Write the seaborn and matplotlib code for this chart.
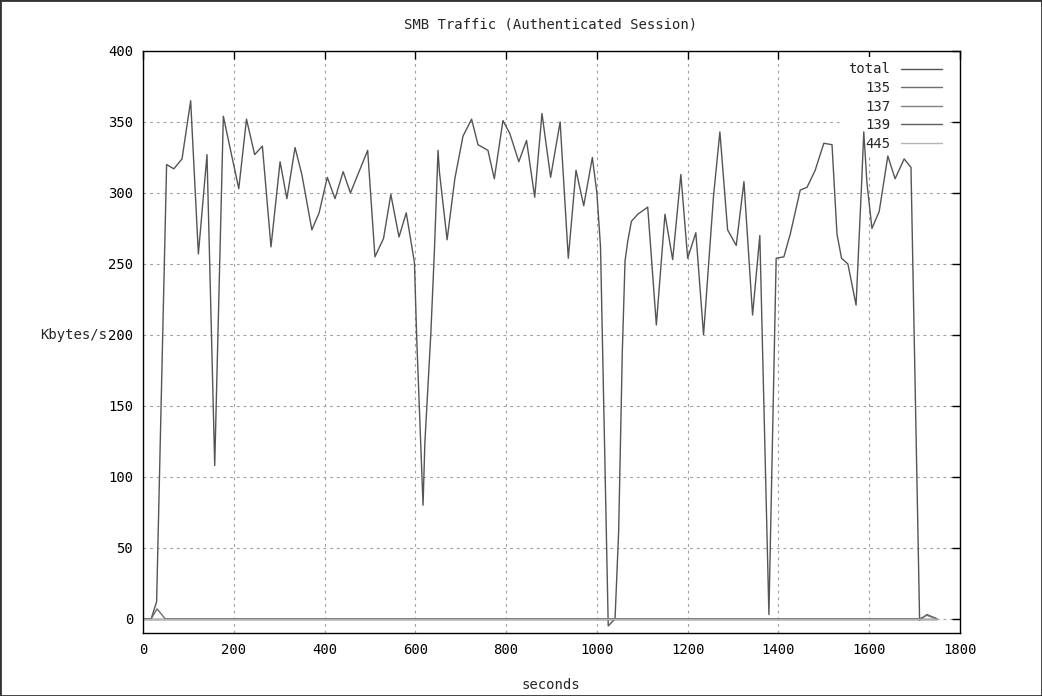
import matplotlib
matplotlib.use("Agg")
import matplotlib.pyplot as plt
from matplotlib.patches import Rectangle
import pandas as pd
import seaborn as sns

# ---------------- data ----------------
title = "SMB Traffic (Authenticated Session)"
x_label = "seconds"
y_label = "Kbytes/s"
x_ticks = [0, 200, 400, 600, 800, 1000, 1200, 1400, 1600, 1800]
y_ticks = [0, 50, 100, 150, 200, 250, 300, 350, 400]
series_names = ["total", "135", "137", "139", "445"]

total_t = [0, 18, 30, 52, 68, 86, 105, 122, 141, 158, 177, 211, 228, 246, 263,
           282, 302, 317, 335, 350, 372, 388, 406, 423, 441, 457, 495, 511, 530,
           546, 564, 580, 598, 603, 617, 621, 634, 642, 650, 653, 670, 687, 705,
           724, 738, 760, 774, 793, 808, 828, 845, 863, 879, 898, 919, 928, 937,
           954, 971, 990, 1000, 1008, 1025, 1040, 1048, 1056, 1062, 1068, 1076,
           1090, 1112, 1131, 1150, 1167, 1185, 1200, 1218, 1235, 1257, 1271,
           1288, 1307, 1324, 1343, 1359, 1379, 1395, 1412, 1426, 1448, 1463,
           1481, 1500, 1518, 1529, 1539, 1553, 1571, 1583, 1588, 1595, 1606,
           1622, 1641, 1657, 1677, 1692, 1711, 1727, 1749]
total_v = [0, 0, 12, 320, 317, 324, 365, 257, 327, 108, 354, 303, 352, 327, 333,
           262, 322, 296, 332, 313, 274, 286, 311, 296, 315, 300, 330, 255, 268,
           299, 269, 286, 251, 198, 80, 124, 200, 259, 330, 315, 267, 310, 340,
           352, 334, 330, 310, 351, 342, 322, 337, 297, 356, 311, 350, 302, 254,
           316, 291, 325, 300, 262, -5, 0, 62, 188, 252, 266, 280,
           285, 290, 207, 285, 253, 313, 254, 272, 200, 298, 343,
           274, 263, 308, 214, 270, 3, 254, 255, 271, 302, 304,
           316, 335, 334, 271, 254, 250, 221, 305, 343, 307, 275,
           287, 326, 310, 324, 318, -1, 3, 0]

p135_t = [0, 18, 31, 49, 1711, 1727, 1749]
p135_v = [0, 0, 7, 0, 0, 2.5, 0]
p137_t = [0, 1749]
p137_v = [0, 0]
p139_t = [0, 1749]
p139_v = [0, 0]
p445_t = [0, 1749]
p445_v = [0, 0]

colors = ["#555555", "#6e6e6e", "#808080", "#5e5e5e", "#b4b4b4"]

# ---------------- build long table ----------------
frames = []
for name, t, v in zip(series_names,
                      [total_t, p135_t, p137_t, p139_t, p445_t],
                      [total_v, p135_v, p137_v, p139_v, p445_v]):
    frames.append(pd.DataFrame({"seconds": t, "kb": v, "series": name}))
df = pd.concat(frames, ignore_index=True)

sns.set_style("white")
plt.rcParams["font.family"] = ["DejaVu Sans Mono", "DejaVu Sans"]
FS = 10

fig = plt.figure(figsize=(10.42, 6.96), dpi=100)
ax = fig.add_axes([143 / 1042, 1 - 633 / 696, (960 - 143) / 1042, (633 - 51) / 696])

sns.lineplot(data=df, x="seconds", y="kb", hue="series", hue_order=series_names,
             palette=colors, estimator=None, sort=False, linewidth=1.0,
             legend=False, ax=ax)

ax.set_xlim(0, 1800)
ax.set_ylim(-10, 400)
ax.set_xticks(x_ticks)
ax.set_yticks(y_ticks)
ax.set_xlabel("")
ax.set_ylabel("")

ax.grid(True, color="#a0a0a0", linestyle=(0, (2.5, 3.5)), linewidth=0.8)
ax.set_axisbelow(True)
for s in ax.spines.values():
    s.set_color("black")
    s.set_linewidth(1.0)
    s.set_visible(True)
ax.tick_params(which="both", direction="in", top=True, right=True,
               length=5.5, width=1.0, color="black", labelsize=FS,
               labelcolor="black", pad=7)

handles = ax.lines[:5]
leg = ax.legend(handles=handles, labels=series_names, loc="upper right",
                bbox_to_anchor=(0.985, 0.99), borderaxespad=0,
                markerfirst=False, frameon=True, fancybox=False,
                facecolor="white", edgecolor="none", framealpha=1,
                handlelength=3.0, handletextpad=0.75, labelspacing=0.33,
                borderpad=0.4, fontsize=FS)
leg.set_zorder(1.5)

fig.text(551 / 1042, 1 - 25 / 696, title, ha="center", va="center", fontsize=FS)
fig.text(551 / 1042, 1 - 685 / 696, x_label, ha="center", va="center", fontsize=FS)
fig.text(74 / 1042, 1 - 335 / 696, y_label, ha="center", va="center", fontsize=FS)

fig.patches.append(Rectangle((0, 0), 1, 1, transform=fig.transFigure,
                             fill=False, edgecolor="#333333", linewidth=2.0))

fig.savefig("out.png", dpi=100, facecolor="white")
